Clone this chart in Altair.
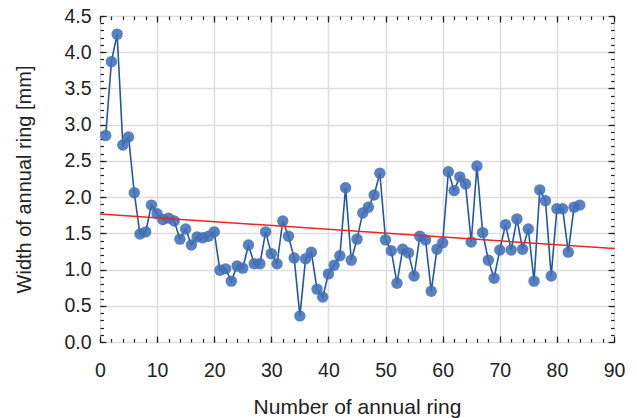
import altair as alt
import pandas as pd

ring = list(range(1, 85))
width_mm = [
    2.85, 3.87, 4.25, 2.72, 2.83, 2.06, 1.49, 1.52, 1.89, 1.77,
    1.69, 1.71, 1.67, 1.42, 1.56, 1.34, 1.45, 1.44, 1.46, 1.52,
    0.99, 1.01, 0.84, 1.05, 1.02, 1.34, 1.08, 1.08, 1.52, 1.22,
    1.08, 1.67, 1.46, 1.16, 0.36, 1.15, 1.24, 0.73, 0.62, 0.94,
    1.06, 1.19, 2.13, 1.13, 1.42, 1.78, 1.86, 2.03, 2.33, 1.41,
    1.26, 0.81, 1.28, 1.23, 0.91, 1.46, 1.41, 0.70, 1.28, 1.37,
    2.35, 2.09, 2.28, 2.18, 1.38, 2.43, 1.51, 1.13, 0.88, 1.27,
    1.62, 1.27, 1.70, 1.28, 1.56, 0.84, 2.10, 1.95, 0.91, 1.84,
    1.84, 1.24, 1.86, 1.89,
]
x_major = list(range(0, 91, 10))
x_minor = list(range(0, 91, 2))
y_major = [i * 0.5 for i in range(10)]
y_minor = [round(i * 0.1, 1) for i in range(46)]

df = pd.DataFrame({"ring": ring, "width": width_mm})

W, H = 514, 326
FONT = "Liberation Sans"
xs = alt.Scale(domain=[0, 90], nice=False, zero=False)
ys = alt.Scale(domain=[0, 4.5], nice=False)


def tick_axis(orient, values, size, offset):
    return alt.Axis(orient=orient, values=values, tickSize=size, offset=offset,
                    labels=False, grid=False, domain=False, title=None,
                    tickColor="#222", tickWidth=1.2)


base = alt.Chart(df)

main_x = alt.Axis(orient="bottom", values=x_major, grid=True, gridColor="#dedede",
                  gridWidth=1.5, tickSize=0, domain=False, labelPadding=19,
                  labelFontSize=19.5, labelFont=FONT, labelColor="#222",
                  labelFlush=False,
                  title="Number of annual ring", titleFont=FONT, titleFontSize=21,
                  titleFontWeight="normal", titleColor="#222", titleY=65,
                  titleBaseline="middle")
main_y = alt.Axis(orient="left", values=y_major, grid=True, gridColor="#dedede",
                  gridWidth=1.5, tickSize=0, domain=False, labelPadding=9,
                  labelFontSize=19.5, labelFont=FONT, labelColor="#222", format=".1f",
                  labelFlush=False,
                  title="Width of annual ring [mm]", titleFont=FONT, titleFontSize=20,
                  titleFontWeight="normal", titleColor="#222", titleX=-76,
                  titleBaseline="middle")

reg = base.transform_regression("ring", "width", extent=[0, 90]).mark_line(
    color="#e8262a", strokeWidth=1.5
).encode(
    x=alt.X("ring:Q", scale=xs, axis=main_x),
    y=alt.Y("width:Q", scale=ys, axis=main_y),
)

line = base.mark_line(color="#2456a6", strokeWidth=1.6).encode(
    x=alt.X("ring:Q", scale=xs, axis=tick_axis("top", x_major, 6, -H)),
    y=alt.Y("width:Q", scale=ys, axis=tick_axis("right", y_major, 6, -W)),
)

pts = base.mark_circle(color="#4170b6", opacity=0.88, size=130).encode(
    x=alt.X("ring:Q", scale=xs, axis=tick_axis("top", x_minor, 3.5, -H)),
    y=alt.Y("width:Q", scale=ys, axis=tick_axis("right", y_minor, 3.5, -W)),
)

inv1 = base.mark_point(opacity=0).encode(
    x=alt.X("ring:Q", scale=xs, axis=tick_axis("bottom", x_major, 6, -H)),
    y=alt.Y("width:Q", scale=ys, axis=tick_axis("left", y_major, 6, -W)),
)
inv2 = base.mark_point(opacity=0).encode(
    x=alt.X("ring:Q", scale=xs, axis=tick_axis("bottom", x_minor, 3.5, -H)),
    y=alt.Y("width:Q", scale=ys, axis=tick_axis("left", y_minor, 3.5, -W)),
)

chart = alt.layer(inv1, inv2, line, pts, reg).resolve_axis(
    x="independent", y="independent"
).properties(
    width=W, height=H,
    autosize=alt.AutoSizeParams(type="none"),
    padding={"left": 100, "top": 16, "right": 23, "bottom": 76},
).configure_view(stroke="#222", strokeWidth=1.5).configure(background="white")

chart.save("out.html", embed_options={"renderer": "svg", "actions": False})
